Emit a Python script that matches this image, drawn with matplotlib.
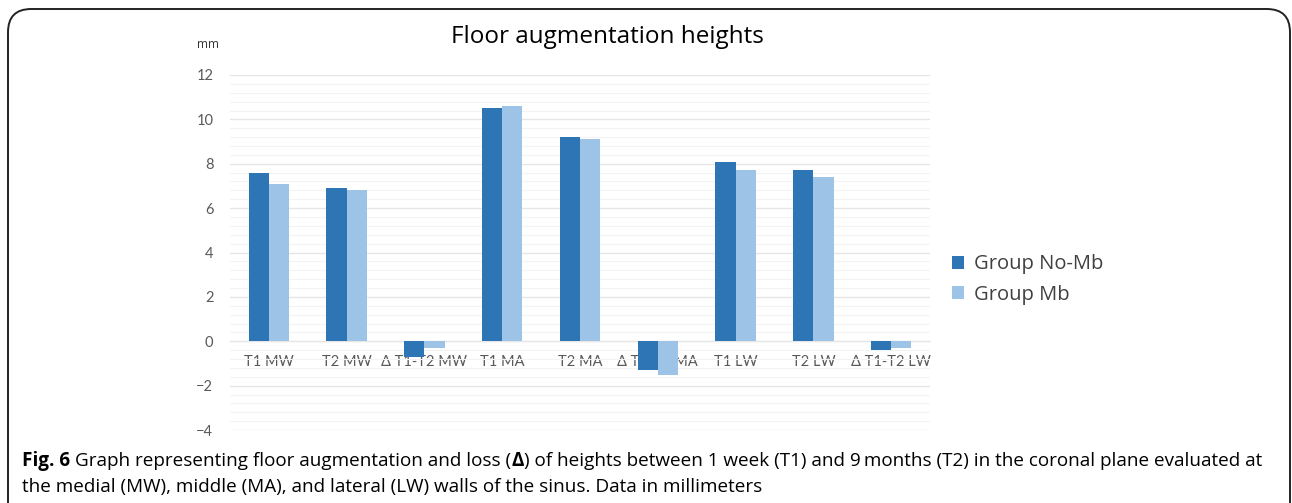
import matplotlib
matplotlib.use('Agg')
import matplotlib.pyplot as plt
from matplotlib.patches import FancyBboxPatch
from matplotlib.ticker import MultipleLocator
import numpy as np

# data (mm)
categories = ['T1 MW', 'T2 MW', 'Δ T1-T2 MW', 'T1 MA', 'T2 MA', 'Δ T1-T2 MA',
              'T1 LW', 'T2 LW', 'Δ T1-T2 LW']
no_mb = [7.6, 6.9, -0.7, 10.5, 9.2, -1.3, 8.1, 7.7, -0.4]
mb = [7.1, 6.8, -0.3, 10.6, 9.1, -1.5, 7.7, 7.4, -0.3]
series_names = ['Group No-Mb', 'Group Mb']

plt.rcParams['font.family'] = ['Open Sans', 'DejaVu Sans']

W, H = 1292, 503
fig = plt.figure(figsize=(W / 100, H / 100), dpi=100)

# rounded frame around the figure panel (bottom runs off the image)
frame = FancyBboxPatch((8 / W, -0.05), 1282 / W, 1.05 - 9 / H,
                       boxstyle='round,pad=0,rounding_size=0.018',
                       transform=fig.transFigure, fill=False,
                       edgecolor='#222222', linewidth=1.4, mutation_aspect=W / H)
fig.patches.append(frame)

ax = fig.add_axes([230 / W, 1 - 430 / H, 700 / W, 355 / H])

x = np.arange(len(categories))
w = 0.26
ax.bar(x - w / 2, no_mb, w, color='#2E75B6', label=series_names[0])
ax.bar(x + w / 2, mb, w, color='#9DC3E6', label=series_names[1])

ax.set_xlim(-0.5, len(categories) - 0.5)
ax.set_ylim(-4, 12)
ax.yaxis.set_major_locator(MultipleLocator(2))
ax.yaxis.set_minor_locator(MultipleLocator(0.4))
ax.grid(which='major', axis='y', color='#e6e6e6', linewidth=1)
ax.grid(which='minor', axis='y', color='#f3f3f3', linewidth=0.8)
ax.set_axisbelow(True)

for s in ['top', 'right', 'left']:
    ax.spines[s].set_visible(False)
ax.spines['bottom'].set_position(('data', 0))
ax.spines['bottom'].set_color('#e0e0e0')
ax.spines['bottom'].set_zorder(0)

ax.set_xticks(x)
ax.set_xticklabels(categories, family=['Lato', 'DejaVu Sans'])
ax.tick_params(axis='x', length=0, labelsize=10.5, labelcolor='#595959', pad=10)
ax.tick_params(axis='y', which='both', length=0, labelsize=10.5,
               labelcolor='#595959', pad=12)
for lab in ax.get_yticklabels():
    lab.set_family(['Lato', 'DejaVu Sans'])

fig.text(607 / W, 1 - 37 / H, 'Floor augmentation heights',
         ha='center', va='center', fontsize=17.5, color='black')
fig.text(208 / W, 1 - 45 / H, 'mm', ha='center', va='center',
         fontsize=8.5, color='#333333')

ax.legend(loc='center left', bbox_to_anchor=(1.005, 0.424), frameon=False,
          fontsize=14.5, handlelength=0.6, handleheight=0.6, handletextpad=0.5,
          labelspacing=0.5, labelcolor='#404040')

# caption: pieces chained along the first line, some of them bold
fig.canvas.draw()
r = fig.canvas.get_renderer()
pieces = [('Fig. 6 ', 'bold'),
          ('Graph representing floor augmentation and loss (', 'normal'),
          ('\u0394', 'bold'),
          (') of heights between 1 week (T1) and 9\u2009months (T2) in the '
           'coronal plane evaluated at', 'normal')]
xpos = 22
for txt, wgt in pieces:
    t = fig.text(xpos / W, 1 - 461 / H, txt, ha='left', va='center',
                 fontsize=13.6, fontweight=wgt, color='black')
    xpos = t.get_window_extent(renderer=r).x1
fig.text(22 / W, 1 - 487 / H,
         'the medial (MW), middle (MA), and lateral (LW) walls of the sinus. Data in millimeters',
         ha='left', va='center', fontsize=13.6, color='black')

fig.savefig('out.png', dpi=100)
